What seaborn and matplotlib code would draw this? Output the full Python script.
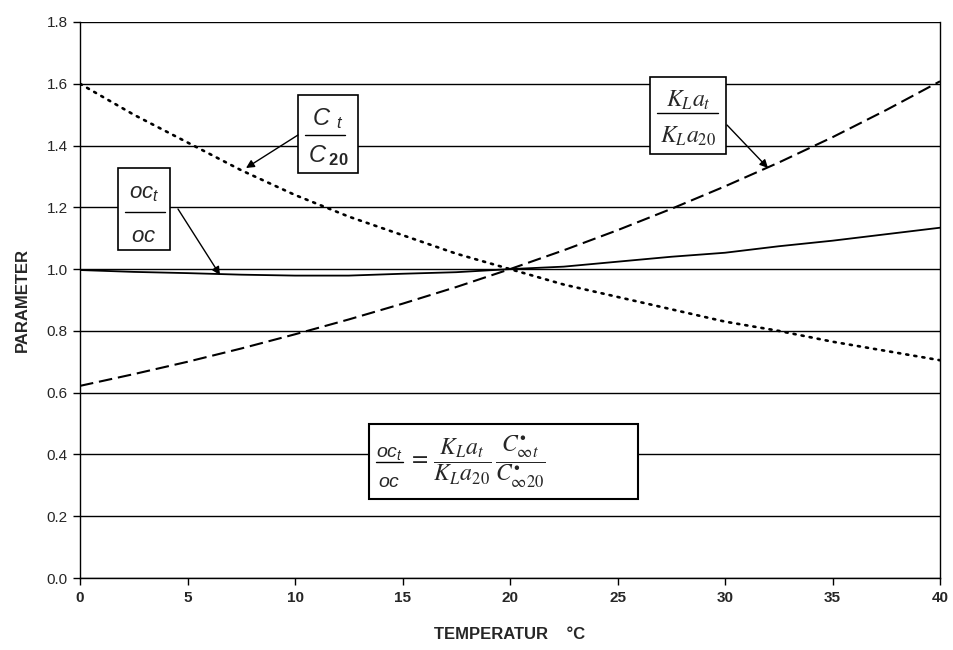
import matplotlib
matplotlib.use("Agg")
import matplotlib.pyplot as plt
from matplotlib.patches import Rectangle
import pandas as pd
import seaborn as sns

# Temperature (deg C) and the three dimensionless ratios
temperature = [0, 2.5, 5, 7.5, 10, 12.5, 15, 17.5, 20, 22.5, 25, 27.5, 30, 32.5, 35, 37.5, 40]
ratio_c = [1.60, 1.50, 1.41, 1.32, 1.24, 1.17, 1.11, 1.05, 1.00, 0.95, 0.91, 0.87, 0.83, 0.80, 0.765, 0.735, 0.705]
ratio_kla = [0.622, 0.660, 0.700, 0.743, 0.789, 0.837, 0.888, 0.942, 1.000, 1.061, 1.126, 1.195, 1.268, 1.345, 1.427, 1.515, 1.608]
ratio_oc = [0.997, 0.991, 0.987, 0.982, 0.979, 0.979, 0.985, 0.990, 1.000, 1.008, 1.024, 1.040, 1.053, 1.074, 1.092, 1.113, 1.134]

x_ticks = [0, 5, 10, 15, 20, 25, 30, 35, 40]
y_ticks = [0.0, 0.2, 0.4, 0.6, 0.8, 1.0, 1.2, 1.4, 1.6, 1.8]

sns.set_theme(style="white")
plt.rcParams["font.family"] = ["Liberation Sans", "DejaVu Sans"]
plt.rcParams["mathtext.fontset"] = "stix"
# sans-serif math (used with math_fontfamily="custom")
plt.rcParams["mathtext.it"] = "Liberation Sans:style=italic"
plt.rcParams["mathtext.rm"] = "Liberation Sans"
plt.rcParams["mathtext.bf"] = "Liberation Sans:weight=bold"

df = pd.DataFrame({"T": temperature, "c": ratio_c, "kla": ratio_kla, "oc": ratio_oc})

W, H = 954, 650
fig = plt.figure(figsize=(W / 100, H / 100), dpi=100)
ax = fig.add_axes([80 / W, 1 - 578 / H, 860 / W, 556 / H])

for yv in y_ticks:
    ax.axhline(yv, color="black", lw=1.0, zorder=1)

sns.lineplot(data=df, x="T", y="c", ax=ax, color="black", lw=1.9,
             linestyle=(0, (0.8, 2.3)), dash_capstyle="round", zorder=3)
sns.lineplot(data=df, x="T", y="kla", ax=ax, color="black", lw=1.5,
             linestyle=(0, (6.5, 2.8)), zorder=3)
sns.lineplot(data=df, x="T", y="oc", ax=ax, color="black", lw=1.3, zorder=3)

ax.set_xlim(0, 40)
ax.set_ylim(0, 1.8)
ax.set_xticks(x_ticks)
ax.set_yticks(y_ticks)
ax.set_xticklabels([str(v) for v in x_ticks], fontsize=11, fontweight="bold")
ax.set_yticklabels([f"{v:.1f}" for v in y_ticks], fontsize=11)
ax.tick_params(axis="both", direction="out", length=5, width=1, color="black",
               bottom=True, left=True, pad=4)
for side in ["left", "right", "top", "bottom"]:
    ax.spines[side].set_color("black")
    ax.spines[side].set_linewidth(1.0)
ax.spines["top"].set_visible(False)

ax.set_xlabel("TEMPERATUR    \u00b0C", fontsize=12, fontweight="bold", labelpad=16)
ax.set_ylabel("PARAMETER", fontsize=12, fontweight="bold", labelpad=12)


def to_data(px, py):
    """Pixel position on the figure -> data coordinates of the axes."""
    return (px - 80) / 21.5, (578 - py) / (556 / 1.8)


def label_box(x0, y0, x1, y1, lw=1.2):
    (dx0, dy0), (dx1, dy1) = to_data(x0, y1), to_data(x1, y0)
    ax.add_patch(Rectangle((dx0, dy0), dx1 - dx0, dy1 - dy0, fc="white",
                           ec="black", lw=lw, zorder=5))


def stacked(cx, num, num_base, den, den_base, bar_y, bar_x0, bar_x1,
            size, family):
    """Numerator over a bar over denominator, positioned in figure pixels."""
    for s, base in ((num, num_base), (den, den_base)):
        ax.text(*to_data(cx, base), s, fontsize=size, ha="center",
                va="baseline", math_fontfamily=family, zorder=6)
    (bx0, by), (bx1, _) = to_data(bar_x0, bar_y), to_data(bar_x1, bar_y)
    ax.plot([bx0, bx1], [by, by], color="black", lw=1.0, zorder=6)


def pointer(start, tip):
    ax.annotate("", xy=to_data(*tip), xytext=to_data(*start), zorder=6,
                arrowprops=dict(arrowstyle="-|>", color="black", lw=1.0,
                                mutation_scale=12, shrinkA=0, shrinkB=0))


# C_t / C_20 label
label_box(298, 95, 358, 173)
stacked(328, r"$C_{\;\;t}$", 125, r"$C_{\;\mathbf{20}}$", 162,
        135, 305, 345, 17, "custom")
pointer((298, 135), (246, 168))

# oc_t / oc label
label_box(118, 168, 170, 250)
stacked(144, r"$oc_{t}$", 198, r"$oc$", 242, 212, 125, 165, 16, "custom")
pointer((178, 209), (220, 275))

# K_L a_t / K_L a_20 label
label_box(650, 77, 726, 154)
stacked(688, r"$K_{L}a_{t}$", 107, r"$K_{L}a_{20}$", 143, 113, 657, 718,
        17, "stix")
pointer((727, 125), (768, 168))

# governing relation
label_box(369, 424, 638, 499, lw=1.5)
stacked(389, r"$oc_{t}$", 457, r"$oc$", 487, 462, 376, 403, 14, "custom")
ax.text(*to_data(408, 462),
        r"$=\,\dfrac{K_{L}a_{t}}{K_{L}a_{20}}\,"
        r"\dfrac{C^{\bullet}_{\infty t}}{C^{\bullet}_{\infty 20}}$",
        fontsize=17, ha="left", va="center", math_fontfamily="stix", zorder=6)

fig.savefig("out.png", dpi=100, facecolor="white")
